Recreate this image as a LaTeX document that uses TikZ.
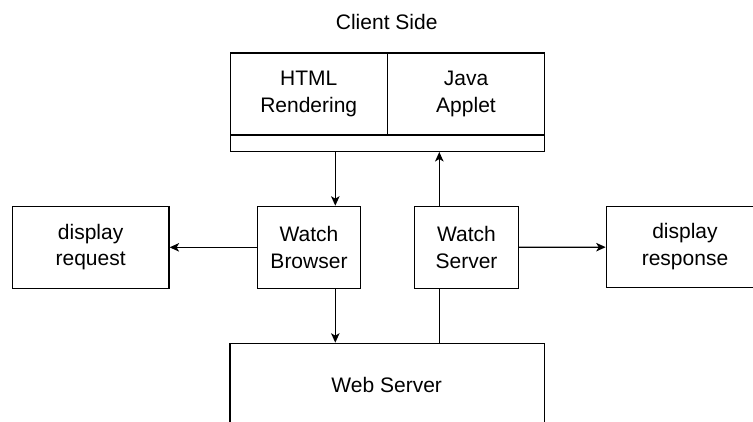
\documentclass[tikz,border=0pt]{standalone}
\usepackage{fontspec}
\setmainfont{Liberation Sans}
\usetikzlibrary{arrows.meta}
\begin{document}
\begin{tikzpicture}[x=1pt,y=-1pt,
  line width=1.3pt,
  txt/.style={font=\fontsize{21}{26.3}\selectfont, align=center},
  blk/.style={draw, txt, inner sep=0pt, anchor=north west},
  arr/.style={-{Stealth[length=9.5pt,width=8.5pt,inset=2.5pt]}}]
  \useasboundingbox (0,0) rectangle (753,422);
  \clip (0,0) rectangle (753,422);

  % title
  \node[txt] (title) at (386.7,22) {Client Side};

  % client side frame: two panes and a bottom strip
  \node[blk, minimum width=314.5pt, minimum height=98.4pt] (client) at (229.5,52.3) {};
  \node[blk, minimum width=157.2pt, minimum height=82pt] (html) at (229.5,52.3) {HTML\\Rendering};
  \node[blk, minimum width=157.3pt, minimum height=82pt] (java) at (386.7,52.3) {Java\\Applet};

  % watchers
  \node[blk, minimum width=103.3pt, minimum height=82pt] (wb) at (256.7,205.7) {Watch\\Browser};
  \node[blk, minimum width=103.7pt, minimum height=82pt] (wsv) at (414,205.7) {Watch\\Server};

  % display boxes (the right one runs past the right edge)
  \node[blk, minimum width=156.6pt, minimum height=82pt] (req) at (11.7,205.7) {display\\request};
  \node[draw, inner sep=0pt, anchor=north west, minimum width=170pt, minimum height=81pt] (resp) at (605.7,206) {};
  \node[txt] (resptxt) at (685,246.5) {display\\response};

  % web server (runs past the lower edge)
  \node[blk, minimum width=314.7pt, minimum height=95pt] (web) at (229.3,342.7) {};
  \node[txt] (webtxt) at (386.7,385) {Web Server};

  % connector columns
  \coordinate (xb) at (335.3,0);
  \coordinate (xs) at (439.3,0);

  \draw[arr] (client.south -| xb) -- (wb.north -| xb);
  \draw[arr] (wsv.north -| xs) -- (client.south -| xs);
  \draw[arr] (wb.south -| xb) -- (web.north -| xb);
  \draw (web.north -| xs) -- (wsv.south -| xs);
  \draw[arr] (wb.west) -- (req.east);
  \draw[arr] (wsv.east) -- (resp.west);
\end{tikzpicture}
\end{document}
